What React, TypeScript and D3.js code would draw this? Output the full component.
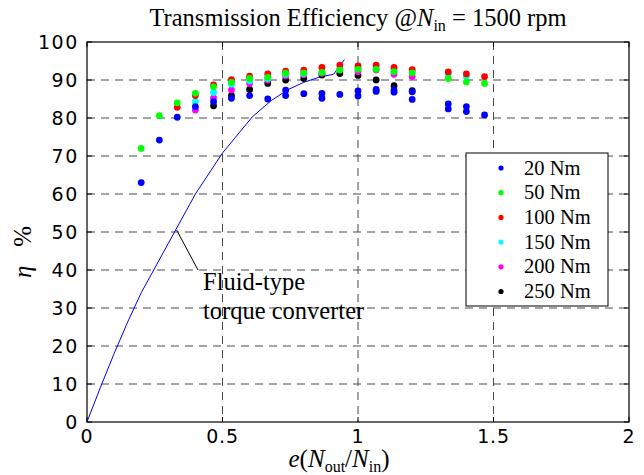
import * as d3 from 'd3';

// speed ratio e, efficiency eta (%) for each load
const s20: [number, number][] = [
  [0.2, 63.0], [0.267, 74.2], [0.333, 80.2], [0.4, 83.0], [0.467, 84.3], [0.533, 85.2],
  [0.6, 85.9], [0.667, 85.0], [0.733, 87.3], [0.733, 85.9], [0.8, 86.4], [0.867, 86.5],
  [0.867, 85.2], [0.933, 86.2], [1.0, 87.1], [1.0, 85.8], [1.067, 87.5], [1.067, 87.0],
  [1.133, 87.4], [1.133, 86.8], [1.2, 86.9], [1.2, 84.9], [1.333, 83.7], [1.333, 82.4],
  [1.4, 83.0], [1.4, 81.7], [1.467, 80.8],
];
const s50: [number, number][] = [
  [0.2, 72.0], [0.267, 80.6], [0.333, 84.0], [0.4, 86.5], [0.467, 88.2], [0.533, 89.4],
  [0.6, 90.4], [0.667, 90.7], [0.733, 91.8], [0.8, 91.9], [0.867, 92.0], [0.933, 92.6],
  [1.0, 92.8], [1.067, 92.8], [1.133, 92.2], [1.2, 91.9], [1.333, 90.4], [1.4, 89.5],
  [1.467, 89.1],
];
const s100: [number, number][] = [
  [0.333, 82.8], [0.4, 85.9], [0.467, 88.7], [0.533, 90.1], [0.6, 91.0], [0.667, 91.6],
  [0.733, 92.3], [0.8, 92.6], [0.867, 93.3], [0.933, 93.9], [1.0, 93.7], [1.067, 93.9],
  [1.133, 93.3], [1.2, 92.7], [1.333, 92.1], [1.4, 91.6], [1.467, 90.9],
];
const s150: [number, number][] = [
  [0.4, 84.3], [0.467, 86.7], [0.533, 88.9], [0.6, 89.8], [0.667, 90.4], [0.733, 91.5],
  [0.8, 91.7], [0.867, 92.1], [0.933, 92.8], [1.0, 93.1], [1.067, 93.2], [1.133, 92.6],
  [1.2, 92.0], [1.333, 91.6], [1.4, 90.9],
];
const s200: [number, number][] = [
  [0.4, 82.1], [0.467, 85.3], [0.533, 87.4], [0.6, 89.1], [0.667, 90.0], [0.733, 91.1],
  [0.8, 91.4], [0.867, 91.8], [0.933, 92.8], [1.0, 92.2], [1.067, 92.6], [1.133, 91.5],
  [1.2, 90.9],
];
const s250: [number, number][] = [
  [0.467, 83.2], [0.533, 85.9], [0.6, 87.5], [0.667, 89.1], [0.733, 90.0], [0.8, 90.4],
  [0.867, 91.3], [0.933, 91.7], [1.0, 91.2], [1.067, 90.0], [1.133, 88.5], [1.2, 87.2],
];

// fluid-type torque converter curve
const converter: [number, number][] = [
  [0, 0], [0.05, 9.2], [0.1, 18], [0.15, 26.3], [0.2, 34], [0.3, 47], [0.4, 60],
  [0.5, 70.8], [0.61, 80.3], [0.68, 84.6], [0.74, 87.4], [0.8, 89.4], [0.86, 90.8],
  [0.91, 91.5], [0.95, 95.4],
];

const loadLabels = ['20 Nm', '50 Nm', '100 Nm', '150 Nm', '200 Nm', '250 Nm'];
const loadColors = ['#0000ff', '#00ff00', '#ff0000', '#00ffff', '#ff00ff', '#000000'];
const loadSeries = [s20, s50, s100, s150, s200, s250];

const xTicks = [0, 0.5, 1, 1.5, 2];
const yTicks = [0, 10, 20, 30, 40, 50, 60, 70, 80, 90, 100];

const W = 644;
const H = 475;
const margin = { top: 42, right: 15, bottom: 53, left: 87 };

export default function App() {
  const x = d3.scaleLinear().domain([0, 2]).range([margin.left, W - margin.right]);
  const y = d3.scaleLinear().domain([0, 100]).range([H - margin.bottom, margin.top]);
  const line = d3.line<[number, number]>().x(d => x(d[0])).y(d => y(d[1]));

  const x0 = x(0), x1 = x(2), y0 = y(0), y1 = y(100);
  const tickLen = 5;
  const serif = '"Liberation Serif", "Times New Roman", serif';
  const sans = '"DejaVu Sans", sans-serif';

  // draw heavier loads first so that 20 Nm ends up on top
  const drawOrder = [5, 4, 3, 2, 1, 0];

  const legX = 466, legY = 153, legW = 142, legH = 153;

  return (
    <svg width={W} height={H} style={{ position: 'absolute', left: 0, top: 0, background: '#fff' }}>
      <rect x={0} y={0} width={W} height={H} fill="#fff" />

      {/* grid */}
      <g stroke="#4a4a4a" strokeWidth={1} strokeDasharray="8,6">
        {xTicks.slice(1, -1).map(t => (
          <line key={'gx' + t} x1={x(t)} x2={x(t)} y1={y1} y2={y0} />
        ))}
        {yTicks.slice(1, -1).map(t => (
          <line key={'gy' + t} x1={x0} x2={x1} y1={y(t)} y2={y(t)} />
        ))}
      </g>

      {/* converter curve */}
      <path d={line(converter) || ''} fill="none" stroke="#0000ff" strokeWidth={1} />

      {/* measured points */}
      {drawOrder.map(i => (
        <g key={'s' + i} fill={loadColors[i]}>
          {loadSeries[i].map((d, j) => (
            <circle key={j} cx={x(d[0])} cy={y(d[1])} r={3.4} />
          ))}
        </g>
      ))}

      {/* annotation */}
      <line x1={x(0.331)} y1={y(50.5)} x2={198} y2={270} stroke="#000" strokeWidth={1} />
      <text x={203} y={290} fontFamily={serif} fontSize={24.5}>Fluid-type</text>
      <text x={203} y={319} fontFamily={serif} fontSize={24.5}>torque converter</text>

      {/* legend */}
      <rect x={legX} y={legY} width={legW} height={legH} fill="#fff" stroke="#000" strokeWidth={1} />
      {loadLabels.map((lab, i) => (
        <g key={lab}>
          <circle cx={501} cy={168 + i * 24.7} r={2.6} fill={loadColors[i]} />
          <text x={524} y={168 + i * 24.7 + 6.5} fontFamily={serif} fontSize={20.5}>{lab}</text>
        </g>
      ))}

      {/* frame and ticks */}
      <rect x={x0} y={y1} width={x1 - x0} height={y0 - y1} fill="none" stroke="#000" strokeWidth={1.2} />
      <g stroke="#000" strokeWidth={1}>
        {xTicks.map(t => (
          <g key={'tx' + t}>
            <line x1={x(t)} x2={x(t)} y1={y0} y2={y0 - tickLen} />
            <line x1={x(t)} x2={x(t)} y1={y1} y2={y1 + tickLen} />
          </g>
        ))}
        {yTicks.map(t => (
          <g key={'ty' + t}>
            <line x1={x0} x2={x0 + tickLen} y1={y(t)} y2={y(t)} />
            <line x1={x1} x2={x1 - tickLen} y1={y(t)} y2={y(t)} />
          </g>
        ))}
      </g>

      {/* tick labels */}
      <g fontFamily={sans} fontSize={19} fill="#000">
        {xTicks.map(t => (
          <text key={'lx' + t} x={x(t)} y={y0 + 21} textAnchor="middle" letterSpacing={0.8}>
            {d3.format('~g')(t)}
          </text>
        ))}
        {yTicks.map(t => (
          <text key={'ly' + t} x={x0 - 8} y={y(t) + 7} textAnchor="end" letterSpacing={1.6}>{t}</text>
        ))}
      </g>

      {/* title */}
      <text x={358} y={26} textAnchor="middle" fontFamily={serif} fontSize={24.5}>
        Transmission Efficiency @<tspan fontStyle="italic">N</tspan>
        <tspan fontSize={16} dy={5}>in</tspan>
        <tspan dy={-5}> = 1500 rpm</tspan>
      </text>

      {/* axis labels */}
      <text x={339} y={467} textAnchor="middle" fontFamily={serif} fontSize={25}>
        <tspan fontStyle="italic">e</tspan>(<tspan fontStyle="italic">N</tspan>
        <tspan fontSize={16} dy={5}>out</tspan>
        <tspan dy={-5}>/</tspan><tspan fontStyle="italic">N</tspan>
        <tspan fontSize={16} dy={5}>in</tspan>
        <tspan dy={-5}>)</tspan>
      </text>
      <text transform="translate(31,252) rotate(-90)" textAnchor="middle" fontFamily={serif} fontSize={25}>
        <tspan fontStyle="italic">η</tspan>
        <tspan>{'\u00a0\u00a0\u00a0%'}</tspan>
      </text>
    </svg>
  );
}
